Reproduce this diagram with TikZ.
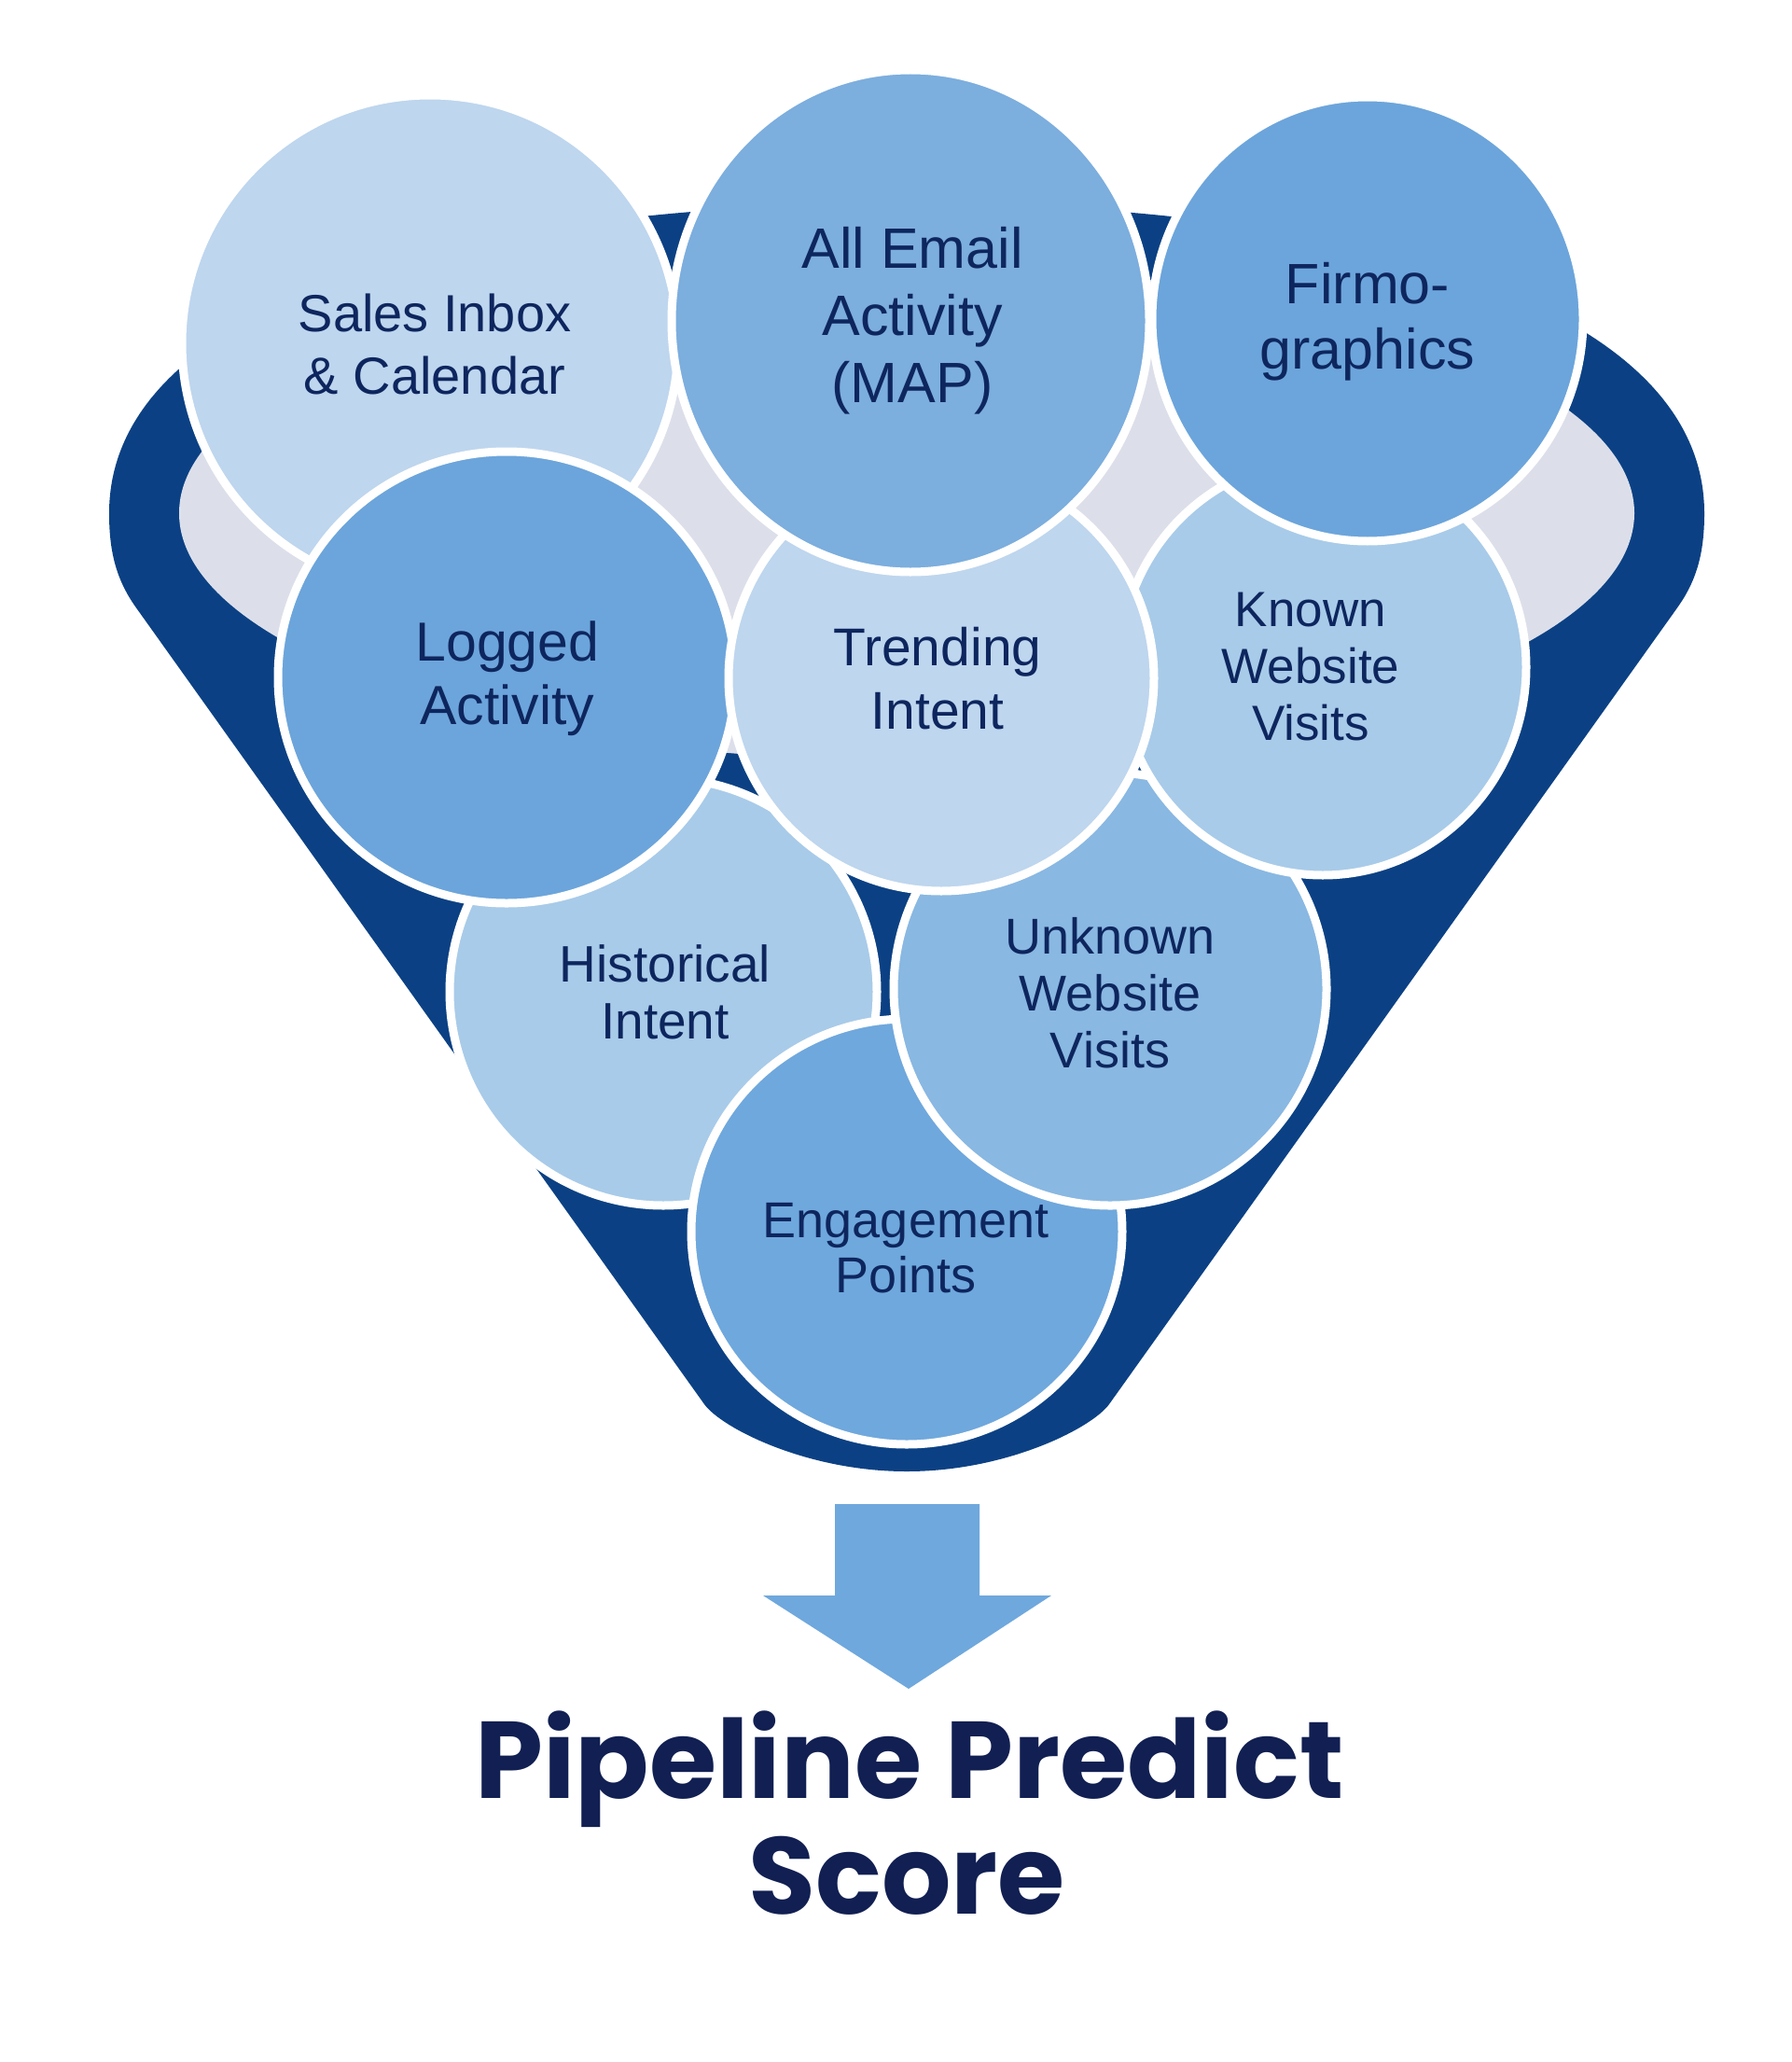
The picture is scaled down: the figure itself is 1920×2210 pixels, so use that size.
\documentclass[tikz,border=0pt]{standalone}
\usepackage{fontspec}
\setmainfont{Liberation Sans}
\newfontfamily\titlefont{Poppins}
\usetikzlibrary{shapes.geometric}
\definecolor{funneldark}{RGB}{11,65,132}
\definecolor{funnelgray}{RGB}{220,223,234}
\definecolor{cpale}{RGB}{190,214,238}
\definecolor{clight}{RGB}{168,203,233}
\definecolor{cmid}{RGB}{137,184,226}
\definecolor{cmail}{RGB}{124,174,222}
\definecolor{cdeep}{RGB}{108,165,219}
\definecolor{arrowblue}{RGB}{111,168,221}
\definecolor{textnavy}{RGB}{14,38,94}
\definecolor{titlenavy}{RGB}{17,31,82}
\begin{document}
\begin{tikzpicture}[x=1pt,y=-1pt,
  bubble/.style={ellipse, draw=white, line width=9pt, inner sep=0pt},
  lbl/.style={text=textnavy, align=center, inner sep=0pt},
  ttl/.style={text=titlenavy, anchor=base, inner sep=0pt, font=\titlefont\bfseries\fontsize{117}{140}\selectfont}
]
\fill[white] (0,0) rectangle (1920,2210);
\useasboundingbox (0,0) rectangle (1920,2210);

% funnel body
\fill[funneldark] (117,550) .. controls (117,330) and (480,218) .. (972,218)
  .. controls (1464,218) and (1827,330) .. (1827,550)
  .. controls (1827,590) and (1820,620) .. (1799,650)
  -- (1189,1505)
  .. controls (1171,1530) and (1080,1577) .. (972,1577)
  .. controls (864,1577) and (773,1530) .. (755,1505)
  -- (145,650)
  .. controls (124,620) and (117,590) .. (117,550) -- cycle;
% funnel opening
\fill[funnelgray] (972,550) ellipse [x radius=780, y radius=265];

% circles (back to front)
\node[bubble, fill=cpale, minimum width=532, minimum height=532] (sales) at (461,368) {};
\node[lbl, font=\fontsize{56}{67}\selectfont] (tsales) at (466,369) {Sales Inbox\\\& Calendar};

\node[bubble, fill=clight, minimum width=458, minimum height=458] (hist) at (711,1063) {};
\node[lbl, font=\fontsize{55}{61}\selectfont] (thist) at (713,1063) {Historical\\Intent};

\node[bubble, fill=arrowblue, minimum width=462, minimum height=456] (engage) at (972,1320) {};
\node[lbl, font=\fontsize{54}{59}\selectfont] (tengage) at (971,1338) {Engagement\\Points};

\node[bubble, fill=cmid, minimum width=464, minimum height=464] (unknown) at (1190,1060) {};
\node[lbl, font=\fontsize{54}{61}\selectfont] (tunknown) at (1190,1064) {Unknown\\Website\\Visits};

\node[bubble, fill=clight, minimum width=436, minimum height=446] (known) at (1418,715) {};
\node[lbl, font=\fontsize{53}{61}\selectfont] (tknown) at (1405,715) {Known\\Website\\Visits};

\node[bubble, fill=cdeep, minimum width=490, minimum height=484] (logged) at (543,726) {};
\node[lbl, font=\fontsize{59}{68}\selectfont] (tlogged) at (544,727) {Logged\\Activity};

\node[bubble, fill=cpale, minimum width=456, minimum height=456] (trend) at (1009,727) {};
\node[lbl, font=\fontsize{57}{68}\selectfont] (ttrend) at (1005,727) {Trending\\Intent};

\node[bubble, fill=cmail, minimum width=512, minimum height=538] (email) at (976,344) {};
\node[lbl, font=\fontsize{61}{72}\selectfont] (temail) at (978,344) {All Email\\Activity\\(MAP)};

\node[bubble, fill=cdeep, minimum width=462, minimum height=476] (firmo) at (1466,342) {};
\node[lbl, font=\fontsize{61}{70}\selectfont] (tfirmo) at (1466,345) {Firmo-\\graphics};

% arrow
\fill[arrowblue] (895,1612) -- (1050,1612) -- (1050,1710) -- (1127,1710)
  -- (974,1810) -- (818,1710) -- (895,1710) -- cycle;

% title
\node[ttl] (title1) at (975,1927) {Pipeline Predict};
\node[ttl] (title2) at (972,2051) {Score};
\end{tikzpicture}
\end{document}
